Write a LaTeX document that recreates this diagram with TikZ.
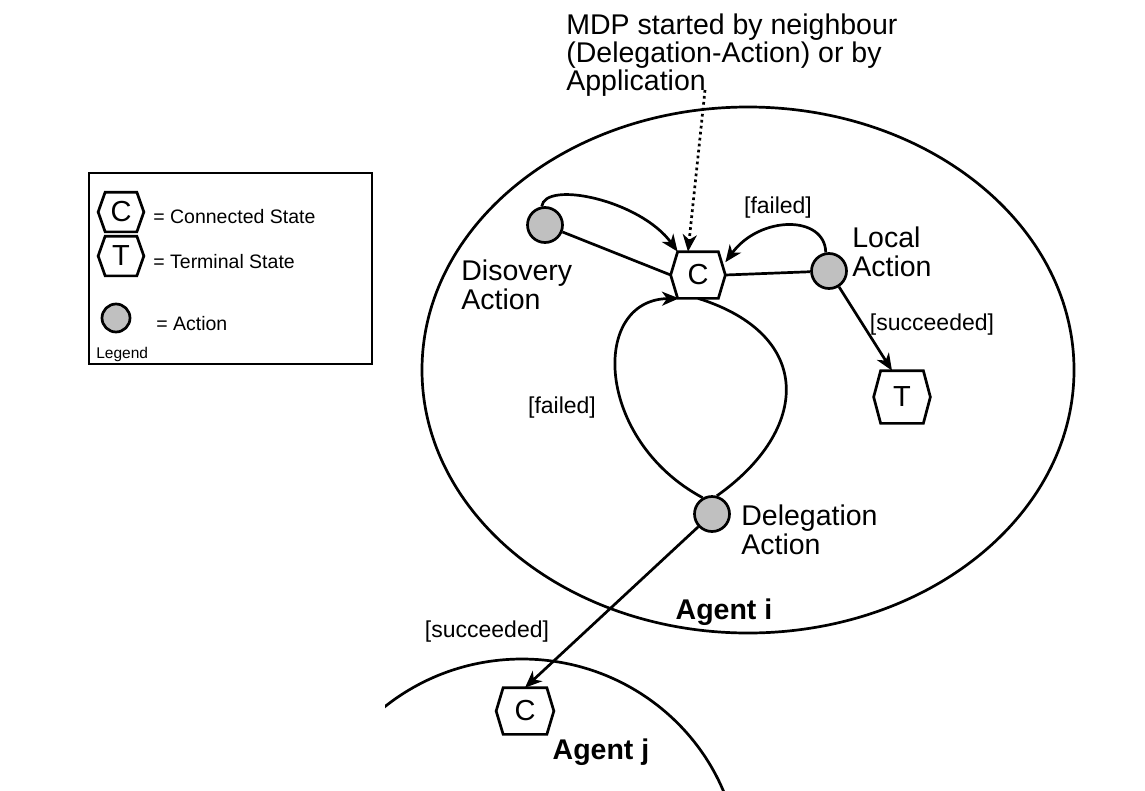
\documentclass[tikz,border=0pt]{standalone}
\usepackage{fontspec}
\setmainfont{Liberation Sans}
\usetikzlibrary{arrows.meta,calc}
\definecolor{actgray}{HTML}{C0C0C0}
\newcommand{\hexnode}[6]{%
  \node[hexlabel, minimum width=#4pt, minimum height=#5pt] (#1) at (#2,#3) {#6};
  \draw[hexline] (#1.west) -- ([xshift=7pt]#1.north west) -- ([xshift=-7pt]#1.north east)
    -- (#1.east) -- ([xshift=-7pt]#1.south east) -- ([xshift=7pt]#1.south west) -- cycle;}
\begin{document}
\begin{tikzpicture}[x=1pt,y=-1pt,line width=2.7pt,
  >={Stealth[length=17pt,width=14pt,inset=5pt]},
  hexlabel/.style={inner sep=0pt, font=\fontsize{29}{29}\selectfont},
  hexline/.style={line width=2.7pt, line join=miter},
  action/.style={circle, draw, fill=actgray, minimum size=35pt, inner sep=0pt, line width=2.7pt},
  lbl/.style={font=\fontsize{28.5}{29}\selectfont, inner sep=0pt, align=left},
  boldlbl/.style={font=\fontsize{28.5}{29}\selectfont\bfseries, inner sep=0pt},
  guard/.style={font=\fontsize{23}{24}\selectfont, inner sep=0pt},
  leg/.style={font=\fontsize{19.5}{20}\selectfont, inner sep=0pt},
  mdpline/.style={dash pattern=on 2.7pt off 3.3pt}
]
\useasboundingbox (0,0) rectangle (1145,790);

% legend
\node[draw, line width=2.2pt, minimum width=283pt, minimum height=191pt, anchor=north west, inner sep=0pt] (legend) at (88,172) {};
\hexnode{lc}{121}{212}{43}{37}{C}
\hexnode{lt}{121}{256}{43}{37}{T}
\node[action, minimum size=28pt] (la) at (116,318) {};
\node[leg, anchor=base west] (lct) at (152,223) {= Connected State};
\node[leg, anchor=base west] (ltt) at (152,268) {= Terminal State};
\node[leg, anchor=base west] (lat) at (155,330) {= Action};
\node[font=\fontsize{15.5}{16}\selectfont, inner sep=0pt, anchor=base west] (legtitle) at (95,358) {Legend};

% agents
\draw (748,370) ellipse (326 and 263);
\begin{scope}
  \clip (385,600) rectangle (1145,790);
  \draw (522,873) ellipse (218 and 214);
\end{scope}

% states
\hexnode{C}{698}{275}{52}{44}{C}
\hexnode{T}{902}{397}{54}{50}{T}
\hexnode{Cj}{525}{711}{55}{44}{C}

% actions
\node[action] (disc) at (545,225) {};
\node[action] (loc) at (829,271) {};
\node[action] (del) at (712,514) {};

% labels
\node[lbl, anchor=north west] (disct) at (460,258) {Disovery\\Action};
\node[lbl, anchor=north west] (loct) at (851,225) {Local\\Action};
\node[lbl, anchor=north west] (delt) at (740,503) {Delegation\\Action};
\node[lbl, anchor=north west, font=\fontsize{28.5}{28}\selectfont] (mdp) at (565,12) {MDP started by neighbour\\(Delegation-Action) or by\\Application};
\node[boldlbl, anchor=base] (agi) at (724,619) {Agent i};
\node[boldlbl, anchor=base] (agj) at (601,759) {Agent j};
\node[guard] (f1) at (778,207.5) {[failed]};
\node[guard] (s1) at (932,325) {[succeeded]};
\node[guard] (f2) at (562,408) {[failed]};
\node[guard] (s2) at (487,632) {[succeeded]};

% connectors
\draw (disc) -- (C.west);
\draw[->] (disc.100) .. controls (545,180) and (640,200) .. ([xshift=7pt]C.north west);
\coordinate (mdpend) at (705,90);
\draw[->, mdpline] (mdpend) -- ([xshift=-10pt]C.north);
\draw (loc) -- (C.east);
\draw[->] (loc.100) .. controls (825,215) and (760,215) .. (C.25);
\draw[->] (loc) -- ([xshift=-10pt]T.north);
\draw (C.south) .. controls (815,335) and (810,430) .. (del.75);
\draw[->] (del.120) .. controls (595,440) and (590,300) .. ([xshift=-19pt]C.south);
\draw[->] (del) -- (Cj.north);
\end{tikzpicture}
\end{document}
